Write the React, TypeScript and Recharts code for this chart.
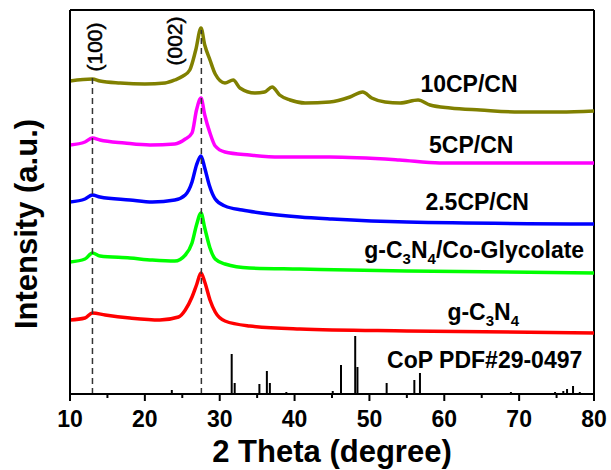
import React from 'react';
import {
  ComposedChart,
  Line,
  XAxis,
  YAxis,
  ReferenceLine,
  Scatter,
} from 'recharts';

// 2θ (degree) vs. intensity (a.u., curves stacked with offsets)
const theta10CP = [10, 13, 14, 16.7, 20, 22.7, 24, 25.1, 26, 26.8, 27.5, 28, 28.7, 29.4, 30.7, 31.8, 32.7, 34.7, 36, 37, 38, 39.4, 41.4, 44.7, 47.4, 49.1, 50.3, 52.1, 54.1, 56.5, 58.1, 60.8, 64.8, 70.1, 75.5, 80];
const int10CP = [313, 315, 313, 311, 310, 311, 314, 318, 324, 344, 366, 349, 334, 320, 311, 314, 306, 301, 302, 307, 299, 294, 291, 292, 297, 302, 296, 292, 291, 294, 289, 286, 284, 282, 282, 283];

const theta5CP = [10, 12, 13, 14, 17.3, 20.7, 24, 25.4, 26.3, 26.9, 27.5, 28, 28.7, 29.4, 30.7, 34, 38, 44.7, 54, 59.4, 70, 80];
const int5CP = [249, 252, 256, 254, 251, 249, 250, 255, 261, 284, 296, 279, 261, 248, 242, 239, 237, 237, 234, 231, 231, 231];

const theta25CP = [10, 12, 13, 14, 18, 21, 24, 25.4, 26.3, 26.9, 27.5, 28, 28.6, 29.4, 30.7, 33, 35.5, 40.7, 45, 55, 80];
const int25CP = [192, 195, 199, 197, 194, 192, 194, 199, 212, 229, 238, 226, 209, 195, 188, 184, 181, 177, 175, 172, 170];

const thetaCoGly = [10, 12, 13, 14, 18, 21, 24, 25.4, 26.3, 26.9, 27.5, 28, 28.7, 29.4, 30.7, 34, 40.7, 55, 80];
const intCoGly = [132, 135, 141, 138, 136, 134, 133, 139, 151, 169, 181, 166, 146, 135, 130, 126, 125, 123, 121];

const thetaCN = [10, 12, 13, 14.7, 18, 22, 24.5, 25.4, 26.3, 26.9, 27.5, 28, 28.7, 29.4, 30.7, 34, 40.7, 55, 80];
const intCN = [74, 76, 81, 79, 76, 74, 77, 84, 97, 109, 121, 112, 94, 82, 73, 68, 65, 63, 61];

// CoP reference pattern, PDF#29-0497
const copTheta = [23.6, 31.6, 32.0, 35.3, 36.3, 36.7, 38.9, 45.1, 46.2, 48.1, 48.4, 52.3, 56.0, 56.75, 61.8, 66.0, 68.9, 69.8, 74.8, 75.9, 76.4, 77.2, 78.1];
const copInt = [4, 40, 11, 10, 23, 11, 2, 3, 29, 58, 27, 11, 14, 21, 1, 1, 2, 1, 2, 3, 5, 8, 2];

const xTicks = [10, 15, 20, 25, 30, 35, 40, 45, 50, 55, 60, 65, 70, 75, 80];
const Y_MAX = 384;

const toPoints = (xs: number[], ys: number[]) => xs.map((x, i) => ({ x, y: ys[i] }));

const series = [
  { name: '10CP/CN', color: '#808000', data: toPoints(theta10CP, int10CP) },
  { name: '5CP/CN', color: '#ff00ff', data: toPoints(theta5CP, int5CP) },
  { name: '2.5CP/CN', color: '#0000ff', data: toPoints(theta25CP, int25CP) },
  { name: 'g-C3N4/Co-Glycolate', color: '#00ff00', data: toPoints(thetaCoGly, intCoGly) },
  { name: 'g-C3N4', color: '#ff0000', data: toPoints(thetaCN, intCN) },
];

// text pieces: [text, isSubscript]
const sampleLabels = [
  { x: 63.3, y: 302, parts: [['10CP/CN', false]] },
  { x: 63.6, y: 241, parts: [['5CP/CN', false]] },
  { x: 64.4, y: 184, parts: [['2.5CP/CN', false]] },
  { x: 64.0, y: 136, parts: [['g-C', false], ['3', true], ['N', false], ['4', true], ['/Co-Glycolate', false]] },
  { x: 65.2, y: 74, parts: [['g-C', false], ['3', true], ['N', false], ['4', true]] },
  { x: 65.4, y: 26, parts: [['CoP PDF#29-0497', false]] },
];

const planeLabels = [
  { x: 14.3, y: 347, text: '(100)' },
  { x: 24.9, y: 353, text: '(002)' },
];

const planeLines = [
  { x: 13.0, top: 317 },
  { x: 27.55, top: 364 },
];

const FONT = 'Arial, "Liberation Sans", sans-serif';
const TICK_SIZE = 7;
const TICK_MARGIN = 4;

const XTick = (props: any) => {
  const { x, y, payload } = props;
  const major = payload.value % 10 === 0;
  const axisY = y - TICK_SIZE - TICK_MARGIN;
  return (
    <g>
      <line x1={x} x2={x} y1={axisY} y2={axisY + (major ? 7 : 4)} stroke="#000" strokeWidth={2} />
      {major && (
        <text x={x} y={axisY + 33} textAnchor="middle" fontFamily={FONT} fontWeight="bold" fontSize={23} fill="#000">
          {payload.value}
        </text>
      )}
    </g>
  );
};

const SampleLabel = (props: any) => {
  const { cx, cy, payload } = props;
  let shifted = false;
  return (
    <text x={cx} y={cy} textAnchor="middle" fontFamily={FONT} fontWeight="bold" fontSize={23} fill="#000">
      {payload.parts.map(([t, sub]: [string, boolean], i: number) => {
        const dy = sub && !shifted ? 6 : !sub && shifted ? -6 : 0;
        shifted = sub;
        return (
          <tspan key={i} dy={dy} fontSize={sub ? 15 : 23}>
            {t}
          </tspan>
        );
      })}
    </text>
  );
};

const PlaneLabel = (props: any) => {
  const { cx, cy, payload } = props;
  return (
    <text
      x={cx}
      y={cy}
      transform={`rotate(-90 ${cx} ${cy})`}
      textAnchor="middle"
      fontFamily={FONT}
      fontSize={21}
      fill="#000"
      stroke="#000"
      strokeWidth={0.5}
    >
      {payload.text}
    </text>
  );
};

export default function App() {
  return (
    <div style={{ position: 'absolute', left: 0, top: 0, width: 611, height: 470, background: '#fff' }}>
      <ComposedChart width={611} height={470} margin={{ top: 10, right: 17, bottom: 0, left: 0 }}>
        <XAxis
          type="number"
          dataKey="x"
          domain={[10, 80]}
          ticks={xTicks}
          interval={0}
          allowDataOverflow
          height={76}
          tickSize={TICK_SIZE}
          tickMargin={TICK_MARGIN}
          tickLine={false}
          tick={<XTick />}
          axisLine={{ stroke: '#000', strokeWidth: 2 }}
          label={{
            content: (p: any) => (
              <text
                x={p.viewBox.x + p.viewBox.width / 2}
                y={p.viewBox.y + 68}
                textAnchor="middle"
                fontFamily={FONT}
                fontWeight="bold"
                fontSize={31}
                fill="#000"
              >
                2 Theta (degree)
              </text>
            ),
          }}
        />
        <YAxis
          type="number"
          dataKey="y"
          domain={[0, Y_MAX]}
          allowDataOverflow
          width={70}
          tick={false}
          tickLine={false}
          axisLine={{ stroke: '#000', strokeWidth: 2 }}
          label={{
            content: (p: any) => {
              const cx = 37;
              const cy = p.viewBox.y + 214;
              return (
                <text
                  x={cx}
                  y={cy}
                  transform={`rotate(-90 ${cx} ${cy})`}
                  textAnchor="middle"
                  fontFamily={FONT}
                  fontWeight="bold"
                  fontSize={31}
                  fill="#000"
                >
                  Intensity (a.u.)
                </text>
              );
            },
          }}
        />
        <ReferenceLine y={Y_MAX} stroke="#000" strokeWidth={2} />
        <ReferenceLine x={80} stroke="#000" strokeWidth={2} />

        {copTheta.map((t, i) => (
          <ReferenceLine
            key={`cop-${i}`}
            segment={[{ x: t, y: 0 }, { x: t, y: copInt[i] }]}
            stroke="#000"
            strokeWidth={2}
          />
        ))}

        {series.map((s) => (
          <Line
            key={s.name}
            data={s.data}
            dataKey="y"
            type="monotone"
            stroke={s.color}
            strokeWidth={3.5}
            dot={false}
            isAnimationActive={false}
          />
        ))}

        {planeLines.map((p, i) => (
          <ReferenceLine
            key={`plane-${i}`}
            segment={[{ x: p.x, y: 0 }, { x: p.x, y: p.top }]}
            stroke="#333"
            strokeWidth={1.5}
            strokeDasharray="6 4"
          />
        ))}

        <Scatter data={planeLabels} dataKey="y" shape={<PlaneLabel />} isAnimationActive={false} />
        <Scatter data={sampleLabels} dataKey="y" shape={<SampleLabel />} isAnimationActive={false} />
      </ComposedChart>
    </div>
  );
}
